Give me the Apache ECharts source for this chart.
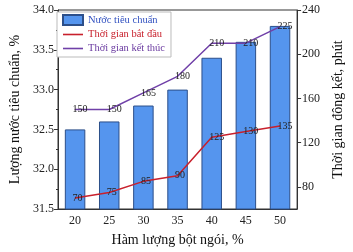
<!DOCTYPE html>
<html><head><meta charset="utf-8">
<script src="https://cdn.jsdelivr.net/npm/echarts@6/dist/echarts.min.js"></script>
<style>html,body{margin:0;padding:0;background:#fff}#c{width:353px;height:252px}</style>
</head><body><div id="c"></div>
<script>
const categories = ['20','25','30','35','40','45','50'];
const waterValues = [32.5, 32.6, 32.8, 33.0, 33.4, 33.6, 33.8];
const startTimes = [70, 75, 85, 90, 125, 130, 135];
const endTimes = [150, 150, 165, 180, 210, 210, 225];
const leftTicks = [31.5, 32.0, 32.5, 33.0, 33.5, 34.0];
const rightTicks = [80, 120, 160, 200, 240];

const F = 'Liberation Serif';
const chart = echarts.init(document.getElementById('c'), null, {renderer:'canvas'});
const lineLabel = {show:true, position:'right', distance:-3, color:'#222', fontFamily:F, fontSize:10};
const lineIcon = 'path://M0,0H20V1.6H0Z';
chart.setOption({
  animation:false,
  textStyle:{fontFamily:F},
  grid:{left:52, right:51, top:10, bottom:40, show:true, borderColor:'#333', borderWidth:1},
  legend:{
    left:57, top:12, orient:'vertical', itemGap:3, itemWidth:20, itemHeight:10,
    padding:[2,6,3,5], borderColor:'#bbb', borderWidth:1, backgroundColor:'#fff',
    textStyle:{fontFamily:F, fontSize:10.5},
    data:[
      {name:'Nước tiêu chuẩn', icon:'rect', textStyle:{color:'#3050c0'}},
      {name:'Thời gian bắt đầu', icon:lineIcon, itemStyle:{color:'#c8202c'}, textStyle:{color:'#c8202c'}},
      {name:'Thời gian kết thúc', icon:lineIcon, itemStyle:{color:'#7040a8'}, textStyle:{color:'#6a3aa0'}}
    ]
  },
  xAxis:{
    type:'category', data:categories,
    name:'Hàm lượng bột ngói, %', nameLocation:'middle', nameGap:24,
    nameTextStyle:{fontFamily:F, fontSize:14, color:'#111'},
    axisLine:{lineStyle:{color:'#333'}},
    axisTick:{alignWithLabel:true, length:4, lineStyle:{color:'#333'}},
    axisLabel:{fontFamily:F, fontSize:12, color:'#222', margin:6}
  },
  yAxis:[{
    type:'value', min:31.5, max:34, interval:0.5,
    name:'Lượng nước tiêu chuẩn, %', nameLocation:'middle', nameGap:36,
    nameTextStyle:{fontFamily:F, fontSize:14, color:'#111'},
    axisLine:{show:true, lineStyle:{color:'#333'}},
    axisTick:{show:true, length:4, lineStyle:{color:'#333'}},
    minorTick:{show:true, splitNumber:2, length:2, lineStyle:{color:'#333'}},
    splitLine:{show:false},
    axisLabel:{fontFamily:F, fontSize:12, color:'#222', margin:4, formatter:v=>v.toFixed(1)}
  },{
    type:'value', min:60, max:240, interval:20,
    name:'Thời gian đông kết, phút', nameLocation:'middle', nameGap:32,
    nameTextStyle:{fontFamily:F, fontSize:14, color:'#111'},
    axisLine:{show:true, lineStyle:{color:'#333'}},
    axisTick:{show:true, length:4, lineStyle:{color:'#333'}, customValues:rightTicks},
    splitLine:{show:false},
    axisLabel:{fontFamily:F, fontSize:12, color:'#222', margin:5, customValues:rightTicks}
  }],
  series:[{
    name:'Nước tiêu chuẩn', type:'bar', data:waterValues, barWidth:'60%', yAxisIndex:0,
    itemStyle:{color:'#5595ee', borderColor:'#2c4f8a', borderWidth:1}
  },{
    name:'Thời gian bắt đầu', type:'line', data:startTimes, yAxisIndex:1,
    symbol:'circle', symbolSize:1, showSymbol:true,
    lineStyle:{color:'#c8202c', width:1.5}, itemStyle:{color:'#c8202c'},
    label:lineLabel
  },{
    name:'Thời gian kết thúc', type:'line', data:endTimes, yAxisIndex:1,
    symbol:'circle', symbolSize:1, showSymbol:true,
    lineStyle:{color:'#7040a8', width:1.5}, itemStyle:{color:'#7040a8'},
    label:lineLabel
  }]
});
</script></body></html>
